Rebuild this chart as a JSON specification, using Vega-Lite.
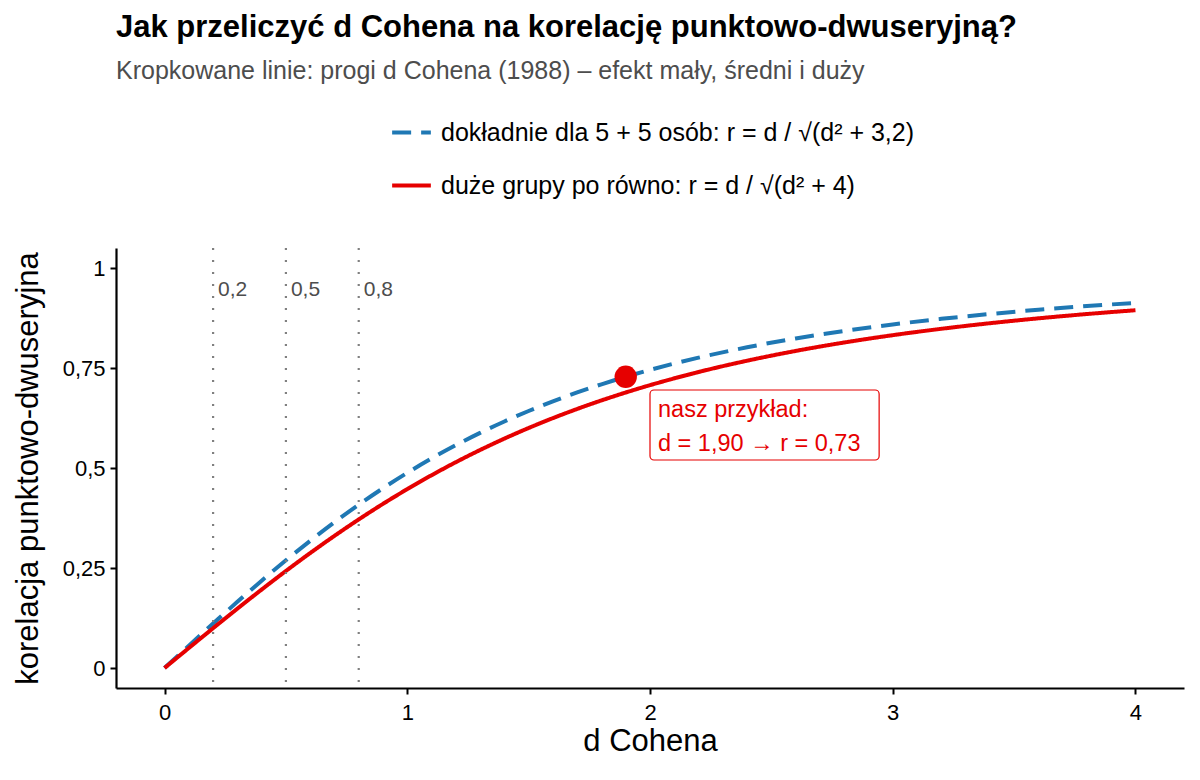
{
  "$schema": "https://vega.github.io/schema/vega-lite/v6.json",
  "width": 1068,
  "height": 440,
  "autosize": {"type": "none"},
  "padding": {"left": 116, "top": 248, "right": 16, "bottom": 92},
  "background": "white",
  "config": {
    "font": "Liberation Sans",
    "view": {"stroke": null},
    "axis": {"grid": false, "domainColor": "black", "domainWidth": 2.2, "tickColor": "black", "tickWidth": 2, "tickSize": 6, "labelColor": "black", "titleColor": "black", "labelFont": "Liberation Sans", "titleFont": "Liberation Sans", "titleFontWeight": "normal", "labelFontSize": 22, "titleFontSize": 31},
    "axisX": {"labelPadding": 8, "titlePadding": 3},
    "axisY": {"labelPadding": 5, "titlePadding": 18}
  },
  "title": {
    "text": "Jak przeliczyć d Cohena na korelację punktowo-dwuseryjną?",
    "subtitle": "Kropkowane linie: progi d Cohena (1988) – efekt mały, średni i duży",
    "anchor": "start",
    "frame": "group",
    "fontSize": 31,
    "fontWeight": "bold",
    "color": "black",
    "subtitleFontSize": 25,
    "subtitleColor": "#4d4d4d",
    "subtitlePadding": 15,
    "offset": 26
  },
  "datasets": {
    "curves": [
      {"d": 0, "r": 0, "model": "dokładnie dla 5 + 5 osób: r = d / √(d² + 3,2)"},
      {"d": 0.1, "r": 0.05581, "model": "dokładnie dla 5 + 5 osób: r = d / √(d² + 3,2)"},
      {"d": 0.2, "r": 0.11111, "model": "dokładnie dla 5 + 5 osób: r = d / √(d² + 3,2)"},
      {"d": 0.3, "r": 0.1654, "model": "dokładnie dla 5 + 5 osób: r = d / √(d² + 3,2)"},
      {"d": 0.4, "r": 0.21822, "model": "dokładnie dla 5 + 5 osób: r = d / √(d² + 3,2)"},
      {"d": 0.5, "r": 0.26919, "model": "dokładnie dla 5 + 5 osób: r = d / √(d² + 3,2)"},
      {"d": 0.6, "r": 0.318, "model": "dokładnie dla 5 + 5 osób: r = d / √(d² + 3,2)"},
      {"d": 0.7, "r": 0.3644, "model": "dokładnie dla 5 + 5 osób: r = d / √(d² + 3,2)"},
      {"d": 0.8, "r": 0.40825, "model": "dokładnie dla 5 + 5 osób: r = d / √(d² + 3,2)"},
      {"d": 0.9, "r": 0.44944, "model": "dokładnie dla 5 + 5 osób: r = d / √(d² + 3,2)"},
      {"d": 1.0, "r": 0.48795, "model": "dokładnie dla 5 + 5 osób: r = d / √(d² + 3,2)"},
      {"d": 1.1, "r": 0.52381, "model": "dokładnie dla 5 + 5 osób: r = d / √(d² + 3,2)"},
      {"d": 1.2, "r": 0.55709, "model": "dokładnie dla 5 + 5 osób: r = d / √(d² + 3,2)"},
      {"d": 1.3, "r": 0.58788, "model": "dokładnie dla 5 + 5 osób: r = d / √(d² + 3,2)"},
      {"d": 1.4, "r": 0.61632, "model": "dokładnie dla 5 + 5 osób: r = d / √(d² + 3,2)"},
      {"d": 1.5, "r": 0.64253, "model": "dokładnie dla 5 + 5 osób: r = d / √(d² + 3,2)"},
      {"d": 1.6, "r": 0.66667, "model": "dokładnie dla 5 + 5 osób: r = d / √(d² + 3,2)"},
      {"d": 1.7, "r": 0.68888, "model": "dokładnie dla 5 + 5 osób: r = d / √(d² + 3,2)"},
      {"d": 1.8, "r": 0.7093, "model": "dokładnie dla 5 + 5 osób: r = d / √(d² + 3,2)"},
      {"d": 1.9, "r": 0.72808, "model": "dokładnie dla 5 + 5 osób: r = d / √(d² + 3,2)"},
      {"d": 2.0, "r": 0.74536, "model": "dokładnie dla 5 + 5 osób: r = d / √(d² + 3,2)"},
      {"d": 2.2, "r": 0.77588, "model": "dokładnie dla 5 + 5 osób: r = d / √(d² + 3,2)"},
      {"d": 2.4, "r": 0.80178, "model": "dokładnie dla 5 + 5 osób: r = d / √(d² + 3,2)"},
      {"d": 2.6, "r": 0.82384, "model": "dokładnie dla 5 + 5 osób: r = d / √(d² + 3,2)"},
      {"d": 2.8, "r": 0.8427, "model": "dokładnie dla 5 + 5 osób: r = d / √(d² + 3,2)"},
      {"d": 3.0, "r": 0.8589, "model": "dokładnie dla 5 + 5 osób: r = d / √(d² + 3,2)"},
      {"d": 3.2, "r": 0.87287, "model": "dokładnie dla 5 + 5 osób: r = d / √(d² + 3,2)"},
      {"d": 3.4, "r": 0.88498, "model": "dokładnie dla 5 + 5 osób: r = d / √(d² + 3,2)"},
      {"d": 3.6, "r": 0.89553, "model": "dokładnie dla 5 + 5 osób: r = d / √(d² + 3,2)"},
      {"d": 3.8, "r": 0.90476, "model": "dokładnie dla 5 + 5 osób: r = d / √(d² + 3,2)"},
      {"d": 4.0, "r": 0.91287, "model": "dokładnie dla 5 + 5 osób: r = d / √(d² + 3,2)"},
      {"d": 0, "r": 0, "model": "duże grupy po równo: r = d / √(d² + 4)"},
      {"d": 0.1, "r": 0.04994, "model": "duże grupy po równo: r = d / √(d² + 4)"},
      {"d": 0.2, "r": 0.0995, "model": "duże grupy po równo: r = d / √(d² + 4)"},
      {"d": 0.3, "r": 0.14834, "model": "duże grupy po równo: r = d / √(d² + 4)"},
      {"d": 0.4, "r": 0.19612, "model": "duże grupy po równo: r = d / √(d² + 4)"},
      {"d": 0.5, "r": 0.24254, "model": "duże grupy po równo: r = d / √(d² + 4)"},
      {"d": 0.6, "r": 0.28735, "model": "duże grupy po równo: r = d / √(d² + 4)"},
      {"d": 0.7, "r": 0.33035, "model": "duże grupy po równo: r = d / √(d² + 4)"},
      {"d": 0.8, "r": 0.37139, "model": "duże grupy po równo: r = d / √(d² + 4)"},
      {"d": 0.9, "r": 0.41036, "model": "duże grupy po równo: r = d / √(d² + 4)"},
      {"d": 1.0, "r": 0.44721, "model": "duże grupy po równo: r = d / √(d² + 4)"},
      {"d": 1.1, "r": 0.48192, "model": "duże grupy po równo: r = d / √(d² + 4)"},
      {"d": 1.2, "r": 0.5145, "model": "duże grupy po równo: r = d / √(d² + 4)"},
      {"d": 1.3, "r": 0.54499, "model": "duże grupy po równo: r = d / √(d² + 4)"},
      {"d": 1.4, "r": 0.57346, "model": "duże grupy po równo: r = d / √(d² + 4)"},
      {"d": 1.5, "r": 0.6, "model": "duże grupy po równo: r = d / √(d² + 4)"},
      {"d": 1.6, "r": 0.6247, "model": "duże grupy po równo: r = d / √(d² + 4)"},
      {"d": 1.7, "r": 0.64765, "model": "duże grupy po równo: r = d / √(d² + 4)"},
      {"d": 1.8, "r": 0.66896, "model": "duże grupy po równo: r = d / √(d² + 4)"},
      {"d": 1.9, "r": 0.68875, "model": "duże grupy po równo: r = d / √(d² + 4)"},
      {"d": 2.0, "r": 0.70711, "model": "duże grupy po równo: r = d / √(d² + 4)"},
      {"d": 2.2, "r": 0.73994, "model": "duże grupy po równo: r = d / √(d² + 4)"},
      {"d": 2.4, "r": 0.76822, "model": "duże grupy po równo: r = d / √(d² + 4)"},
      {"d": 2.6, "r": 0.79262, "model": "duże grupy po równo: r = d / √(d² + 4)"},
      {"d": 2.8, "r": 0.81373, "model": "duże grupy po równo: r = d / √(d² + 4)"},
      {"d": 3.0, "r": 0.83205, "model": "duże grupy po równo: r = d / √(d² + 4)"},
      {"d": 3.2, "r": 0.848, "model": "duże grupy po równo: r = d / √(d² + 4)"},
      {"d": 3.4, "r": 0.86193, "model": "duże grupy po równo: r = d / √(d² + 4)"},
      {"d": 3.6, "r": 0.87416, "model": "duże grupy po równo: r = d / √(d² + 4)"},
      {"d": 3.8, "r": 0.88492, "model": "duże grupy po równo: r = d / √(d² + 4)"},
      {"d": 4.0, "r": 0.89443, "model": "duże grupy po równo: r = d / √(d² + 4)"}
    ],
    "thresholds": [
      {"d": 0.2, "label": "0,2", "ly": 0.945},
      {"d": 0.5, "label": "0,5", "ly": 0.945},
      {"d": 0.8, "label": "0,8", "ly": 0.945}
    ],
    "example": [
      {"d": 1.9, "r": 0.728}
    ],
    "note": [
      {"x1": 2.0, "x2": 2.944, "y1": 0.695, "y2": 0.52, "tx": 2.0, "ty": 0.695, "text": ["nasz przykład:", "d = 1,90 → r = 0,73"]}
    ]
  },
  "layer": [
    {
      "data": {"name": "curves"},
      "mark": {"type": "line", "strokeWidth": 4, "interpolate": "monotone"},
      "encoding": {
        "x": {
          "field": "d", "type": "quantitative",
          "scale": {"domain": [-0.2, 4.2], "nice": false, "zero": false},
          "axis": {"title": "d Cohena", "values": [0, 1, 2, 3, 4], "labelFontSize": 22, "labelExpr": "replace(toString(datum.value), '.', ',')"}
        },
        "y": {
          "field": "r", "type": "quantitative",
          "scale": {"domain": [-0.05, 1.05], "nice": false, "zero": false},
          "axis": {"title": "korelacja punktowo-dwuseryjna", "values": [0, 0.25, 0.5, 0.75, 1], "labelFontSize": 22, "labelExpr": "replace(toString(datum.value), '.', ',')"}
        },
        "color": {
          "field": "model", "type": "nominal",
          "scale": {"domain": ["dokładnie dla 5 + 5 osób: r = d / √(d² + 3,2)", "duże grupy po równo: r = d / √(d² + 4)"], "range": ["#1F78B4", "#E60000"]},
          "legend": {"title": null, "orient": "none", "legendX": 274, "legendY": -137, "labelFontSize": 25, "labelColor": "black", "labelLimit": 0, "symbolType": "stroke", "symbolSize": 1500, "symbolStrokeWidth": 4, "rowPadding": 18, "labelOffset": 8,
            "encode": {"symbols": {"update": {"strokeDash": {"signal": "indexof(datum.value, 'dokładnie') == 0 ? [20, 40] : [1, 0]"}}}}}
        },
        "strokeDash": {
          "field": "model", "type": "nominal",
          "scale": {"domain": ["dokładnie dla 5 + 5 osób: r = d / √(d² + 3,2)", "duże grupy po równo: r = d / √(d² + 4)"], "range": [[19, 10], [1, 0]]},
          "legend": null
        }
      }
    },
    {
      "data": {"name": "thresholds"},
      "mark": {"type": "rule", "color": "#808080", "strokeWidth": 2.2, "strokeDash": [2, 10]},
      "encoding": {
        "x": {"field": "d", "type": "quantitative"}
      }
    },
    {
      "data": {"name": "thresholds"},
      "mark": {"type": "text", "align": "left", "baseline": "middle", "dx": 5, "fontSize": 21, "color": "#4d4d4d"},
      "encoding": {
        "x": {"field": "d", "type": "quantitative"},
        "y": {"field": "ly", "type": "quantitative"},
        "text": {"field": "label"}
      }
    },
    {
      "data": {"name": "example"},
      "mark": {"type": "point", "filled": true, "color": "#E60000", "size": 500, "opacity": 1},
      "encoding": {
        "x": {"field": "d", "type": "quantitative"},
        "y": {"field": "r", "type": "quantitative"}
      }
    },
    {
      "data": {"name": "note"},
      "mark": {"type": "rect", "fill": "white", "stroke": "#E60000", "strokeWidth": 1.2, "cornerRadius": 4},
      "encoding": {
        "x": {"field": "x1", "type": "quantitative"},
        "x2": {"field": "x2"},
        "y": {"field": "y1", "type": "quantitative"},
        "y2": {"field": "y2"}
      }
    },
    {
      "data": {"name": "note"},
      "mark": {"type": "text", "align": "left", "baseline": "top", "dx": 8, "dy": 8, "fontSize": 23.5, "lineHeight": 34, "color": "#E60000"},
      "encoding": {
        "x": {"field": "tx", "type": "quantitative"},
        "y": {"field": "ty", "type": "quantitative"},
        "text": {"field": "text"}
      }
    }
  ]
}
